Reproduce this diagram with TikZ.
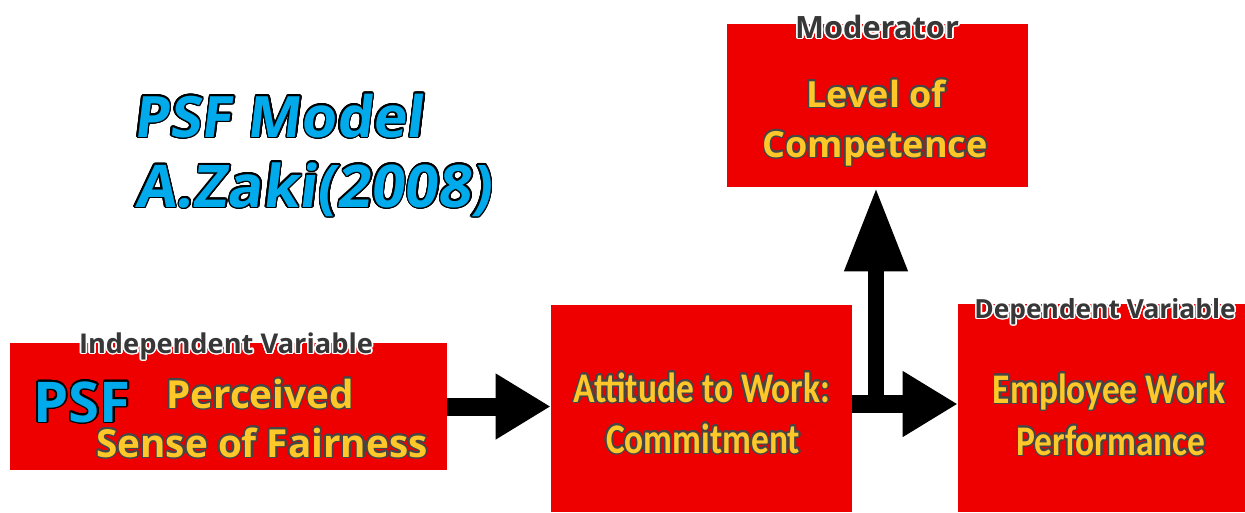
\documentclass[tikz,border=0pt]{standalone}
\usepackage{fontspec}
\setmainfont{Open Sans}
\newfontfamily\narrowFont[FakeStretch=0.84]{Carlito}
\newfontfamily\titleFont[FakeSlant=0.12]{Open Sans}
\usepackage{contour}
\usetikzlibrary{arrows.meta}
\contournumber{20}
\definecolor{boxRed}{RGB}{238,0,0}
\definecolor{textGold}{RGB}{255,200,40}
\definecolor{edgeGray}{RGB}{70,70,70}
\definecolor{labelGray}{RGB}{55,55,55}
\definecolor{titleBlue}{RGB}{0,170,235}
\newcommand{\goldText}[1]{\contourlength{0.8pt}\textcolor{textGold}{\contour{edgeGray}{#1}}}
\newcommand{\labelText}[1]{\contourlength{0.9pt}\textcolor{labelGray}{\contour{white}{#1}}}
\newcommand{\blueText}[1]{\contourlength{0.9pt}\textcolor{titleBlue}{\contour{black}{#1}}}
\begin{document}
\begin{tikzpicture}[%%
  x=0.02cm,y=-0.02cm,%%
  boxStyle/.style={fill=boxRed,inner sep=0pt},%%
  arrowStyle/.style={line width=0.36cm,-{Triangle[length=1.1cm,width=1.24cm]}},%%
  upArrowStyle/.style={line width=0.33cm,-{Triangle[length=1.68cm,width=1.18cm]}},%%
  labelStyle/.style={anchor=base,inner sep=0pt,font=\bfseries\fontsize{15.5}{18}\selectfont},%%
  goldStyle/.style={anchor=base,inner sep=0pt,font=\bfseries\fontsize{22}{26}\selectfont},%%
  narrowStyle/.style={anchor=base,inner sep=0pt,font=\narrowFont\bfseries\fontsize{24}{28}\selectfont},%%
  titleStyle/.style={anchor=base west,inner sep=0pt,font=\titleFont\bfseries\fontsize{32.5}{38}\selectfont}%%
]
%%
\useasboundingbox (0,0) rectangle (1245,512);
%%
%% The four boxes.
\node[boxStyle,minimum width=8.74cm,minimum height=2.54cm] (iv) at (228.5,406.5) {};
\node[boxStyle,minimum width=6.02cm,minimum height=4.14cm] (att) at (701.5,408.5) {};
\node[boxStyle,minimum width=6.02cm,minimum height=3.26cm] (mod) at (877.5,105.5) {};
\node[boxStyle,minimum width=5.74cm,minimum height=4.16cm] (dv) at (1101.5,408) {};
%%
%% Arrows between the boxes.
\coordinate (jn) at (876,404);
\draw[arrowStyle] (iv.east) -- (iv.east -| att.west);
\draw[arrowStyle] (jn -| att.east) -- (jn -| dv.west);
\draw[upArrowStyle] (jn) -- (jn |- mod.south);
%%
%% Title.
\node[titleStyle] (titleA) at (133,137) {\blueText{PSF Model}};
\node[titleStyle,font=\titleFont\bfseries\fontsize{33.5}{38}\selectfont] (titleB) at (135,207) {\blueText{A.Zaki(2008)}};
%%
%% Labels over the boxes.
\node[labelStyle] (ivLabel) at (226,353) {\labelText{Independent Variable}};
\node[labelStyle,font=\bfseries\fontsize{17.5}{21}\selectfont] (modLabel) at (877,38) {\labelText{Moderator}};
\node[labelStyle,font=\bfseries\fontsize{15}{18}\selectfont] (dvLabel) at (1105,318) {\labelText{Dependent Variable}};
%%
%% Texts in the boxes.
\node[goldStyle,font=\bfseries\fontsize{32}{36}\selectfont] (psf) at (82,422) {\blueText{PSF}};
\node[goldStyle] (ivTextA) at (260,408) {\goldText{Perceived}};
\node[goldStyle] (ivTextB) at (262,457) {\goldText{Sense of Fairness}};
\node[narrowStyle] (attTextA) at (702,402) {\goldText{Attitude to Work:}};
\node[narrowStyle] (attTextB) at (703,453) {\goldText{Commitment}};
\node[goldStyle,font=\bfseries\fontsize{20.5}{25}\selectfont] (modTextA) at (876,107) {\goldText{Level of}};
\node[goldStyle,font=\bfseries\fontsize{20.5}{25}\selectfont] (modTextB) at (875,157) {\goldText{Competence}};
\node[narrowStyle] (dvTextA) at (1109,403) {\goldText{Employee Work}};
\node[narrowStyle] (dvTextB) at (1111,455) {\goldText{Performance}};
\end{tikzpicture}
\end{document}
